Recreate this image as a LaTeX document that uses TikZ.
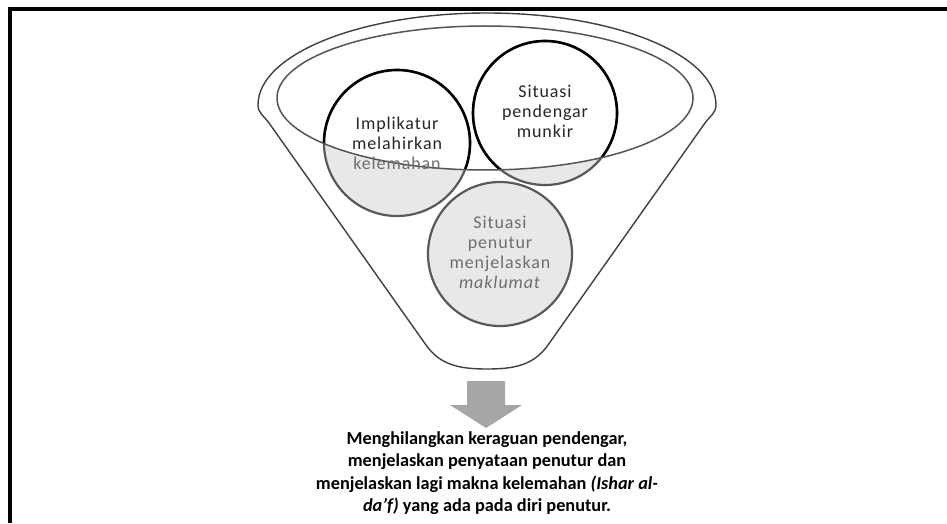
\documentclass[tikz,border=0pt]{standalone}
\usepackage{fontspec}
\setmainfont{Carlito}
\definecolor{funnelline}{HTML}{404040}
\definecolor{ringline}{HTML}{555555}
\definecolor{lowline}{HTML}{595959}
\definecolor{lowfill}{HTML}{E8E8E8}
\definecolor{arrowfill}{HTML}{A6A6A6}
\definecolor{dtext}{HTML}{262626}
\definecolor{gtext}{HTML}{6E6E6E}
\begin{document}
\begin{tikzpicture}[x=1pt,y=1pt,
  ctext/.style={align=center, inner sep=0pt, font=\fontsize{18}{20}\selectfont\addfontfeature{LetterSpace=5}},
  lowcirc/.style={fill=lowfill, draw=lowline, line width=2.2pt},
  topcirc/.style={fill=white, draw=black, line width=2.6pt},
]
\useasboundingbox (0,0) rectangle (947,523);
% frame
\draw[line width=4pt] (10,0) -- (10,514) -- (950,514);
% outer funnel
\draw[funnelline, line width=1.4pt, fill=white]
  (258,418) arc[start angle=180, end angle=0, x radius=229, y radius=92]
  to[out=-90, in=55] (705,400) -- (548,178)
  to[out=235, in=0] (487,154)
  to[out=180, in=-55] (426,178) -- (269,400)
  to[out=125, in=-90] (258,418) -- cycle;
% circles below the rim
\draw[lowcirc] (500,269) circle[radius=72];
\draw[lowcirc] (397,380) circle[radius=73];
\draw[lowcirc] (545,410) circle[radius=72];
% parts inside the rim
\begin{scope}
  \clip (485,425) ellipse[x radius=208, y radius=72];
  \draw[topcirc] (397,380) circle[radius=73];
  \draw[topcirc] (545,410) circle[radius=72];
\end{scope}
% rim
\draw[ringline, line width=1.5pt] (485,425) ellipse[x radius=208, y radius=72];
% texts in circles
\node[ctext, text=dtext] (impl) at (397,380) {Implikatur\\melahirkan\\\textcolor{gtext}{kelemahan}};
\node[ctext, text=dtext] (munk) at (545,412) {Situasi\\pendengar\\munkir};
\node[ctext, text=gtext] (penu) at (500,271) {Situasi\\penutur\\menjelaskan\\\textit{maklumat}};
% arrow
\fill[arrowfill] (467,142) -- (505,142) -- (505,118) -- (522,118) -- (486,95)
  -- (450,118) -- (467,118) -- cycle;
\coordinate (tip) at (486,95);
% result text
\node[align=center, inner sep=0pt, font=\fontsize{18.3}{22.5}\selectfont\bfseries, text=black]
  (res) at (487,50) {Menghilangkan keraguan pendengar,\\
  menjelaskan penyataan penutur dan\\
  menjelaskan lagi makna kelemahan \textit{(Ishar al-}\\
  \textit{da’f)} yang ada pada diri penutur.};
\end{tikzpicture}
\end{document}
